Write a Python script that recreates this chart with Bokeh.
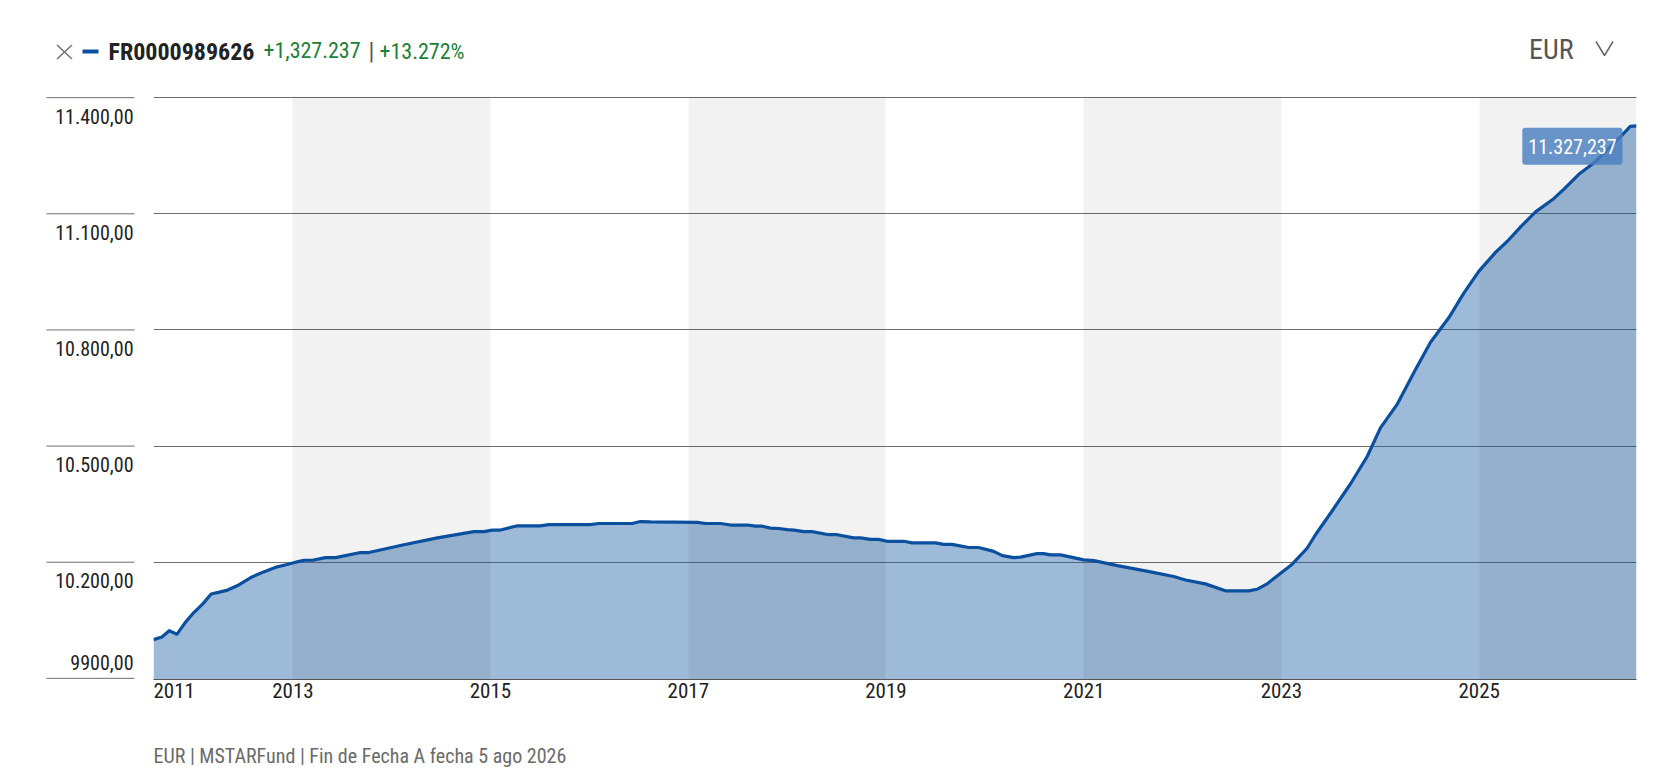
import pandas as pd
from bokeh.plotting import figure
from bokeh.layouts import column, row
from bokeh.models import Range1d, FixedTicker, CustomJSTickFormatter, Label, ColumnDataSource
from bokeh.core.properties import value
from bokeh.embed import file_html
from bokeh.resources import INLINE

# ---------------- data ----------------
dates = [
    "2011-08-05", "2011-09-05", "2011-10-02", "2011-10-31", "2011-11-30", "2012-01-01",
    "2012-02-04", "2012-03-05", "2012-04-01", "2012-05-05", "2012-06-09", "2012-08-03",
    "2012-09-15", "2012-11-04", "2012-12-11", "2013-01-17", "2013-02-11", "2013-03-14",
    "2013-05-02", "2013-06-08", "2013-09-08", "2013-10-09", "2014-02-15", "2014-06-19",
    "2014-11-01", "2014-12-08", "2015-01-07", "2015-02-07", "2015-04-10", "2015-07-05",
    "2015-08-04", "2016-01-05", "2016-02-05", "2016-06-07", "2016-07-08", "2016-08-14",
    "2017-02-03", "2017-03-06", "2017-04-30", "2017-06-06", "2017-08-07", "2017-09-06",
    "2017-10-01", "2017-10-31", "2017-12-01", "2018-01-01", "2018-01-26", "2018-03-04",
    "2018-04-03", "2018-06-04", "2018-07-05", "2018-09-04", "2018-09-29", "2018-11-05",
    "2018-12-05", "2019-01-05", "2019-03-08", "2019-04-08", "2019-07-03", "2019-08-02",
    "2019-09-02", "2019-11-03", "2019-12-09", "2020-02-03", "2020-03-06", "2020-04-17",
    "2020-05-12", "2020-07-12", "2020-08-06", "2020-08-31", "2020-10-07", "2021-01-01",
    "2021-02-07", "2021-05-05", "2021-09-05", "2021-11-29", "2022-01-12", "2022-03-26",
    "2022-06-08", "2022-09-02", "2022-10-03", "2022-11-09", "2022-12-28", "2023-02-10",
    "2023-04-06", "2023-05-07", "2023-07-08", "2023-09-13", "2023-11-14", "2024-01-02",
    "2024-03-03", "2024-05-10", "2024-07-05", "2024-09-11", "2024-11-05", "2024-12-31",
    "2025-03-03", "2025-04-15", "2025-06-03", "2025-07-28", "2025-10-03", "2025-11-09",
    "2026-01-04", "2026-02-28", "2026-04-24", "2026-06-07", "2026-07-13", "2026-08-05",
]
values = [
    10000, 10007, 10023, 10014, 10044, 10070,
    10093, 10118, 10122, 10128, 10139, 10162,
    10175, 10188, 10194, 10201, 10205, 10205,
    10212, 10212, 10225, 10225, 10245, 10263,
    10279, 10279, 10283, 10283, 10294, 10294,
    10297, 10297, 10300, 10300, 10305, 10304,
    10303, 10300, 10300, 10296, 10296, 10293,
    10293, 10288, 10287, 10284, 10283, 10279,
    10279, 10271, 10271, 10263, 10263, 10259,
    10259, 10254, 10254, 10250, 10250, 10246,
    10246, 10238, 10238, 10228, 10217, 10212,
    10213, 10222, 10222, 10219, 10219, 10206,
    10204, 10191, 10175, 10163, 10154, 10144,
    10126, 10126, 10130, 10144, 10171, 10195,
    10236, 10271, 10333, 10402, 10473, 10547,
    10607, 10697, 10768, 10832, 10895, 10952,
    11001, 11029, 11066, 11105, 11139, 11163,
    11202, 11231, 11269, 11299, 11326, 11327.237,
]
y_ticks = [9900, 10200, 10500, 10800, 11100, 11400]
y_tick_labels = ["9900,00", "10.200,00", "10.500,00", "10.800,00", "11.100,00", "11.400,00"]
x_tick_dates = ["2011-08-05", "2013-01-01", "2015-01-01", "2017-01-01",
                "2019-01-01", "2021-01-01", "2023-01-01", "2025-01-01"]
band_starts = ["2013-01-01", "2017-01-01", "2021-01-01", "2025-01-01"]
band_ends = ["2015-01-01", "2019-01-01", "2023-01-01", "2026-08-05"]
isin = "FR0000989626"
change_abs = "+1,327.237"
change_pct = "+13.272%"
currency = "EUR"
last_label = "11.327,237"
footer_text = "EUR | MSTARFund | Fin de Fecha A fecha 5 ago 2026"

# ---------------- style ----------------
FONT = "Roboto Condensed, Noto Sans Condensed, DejaVu Sans Condensed, Liberation Sans Narrow, Roboto"
F = value(FONT)
BLUE = "#0b4f9f"
GRID = "#6e6e6e"
GREEN = "#1a7f37"
PAD = 3
W_TOTAL = 1648

def bare(p):
    p.outline_line_color = None
    p.grid.visible = False
    p.min_border_left = p.min_border_right = 0

# ---------------- main chart ----------------
src = ColumnDataSource(dict(x=pd.to_datetime(dates), y=values))
bands = ColumnDataSource(dict(x0=pd.to_datetime(band_starts), x1=pd.to_datetime(band_ends)))
x_start, x_end = pd.Timestamp(dates[0]), pd.Timestamp(dates[-1])
yr = Range1d(y_ticks[0] - PAD, y_ticks[-1] + PAD)

main = figure(width=1495, height=641, x_axis_type="datetime",
              x_range=Range1d(x_start, x_end), y_range=yr, y_axis_location=None,
              output_backend="svg", toolbar_location=None,
              min_border_top=18, min_border_bottom=40)
bare(main)
main.min_border_right = 12

main.hspan(y=y_ticks[1:], line_color=GRID, line_width=1)
main.varea(x="x", y1=yr.start, y2="y", source=src, fill_color="#1f5fa8", fill_alpha=0.43)
main.vstrip(x0="x0", x1="x1", source=bands, fill_color="black", fill_alpha=0.05, line_color=None)
main.line("x", "y", source=src, line_color=BLUE, line_width=3.2, line_join="round")

xa = main.xaxis[0]
xa.ticker = FixedTicker(ticks=[pd.Timestamp(d).value / 1e6 for d in x_tick_dates])
xa.formatter = CustomJSTickFormatter(code="return String(new Date(tick).getUTCFullYear());")
xa.major_label_text_align = "left"
xa.major_tick_line_color = None
xa.minor_tick_line_color = None
xa.axis_line_color = "#555555"
xa.major_label_text_font = FONT
xa.major_label_text_font_size = "21px"
xa.major_label_text_color = "#222222"
xa.major_label_standoff = -3

main.add_layout(Label(x=x_end, y=values[-1], text=last_label,
                      text_align="right", text_baseline="top",
                      x_offset=-14, y_offset=-2,
                      text_color="white", text_font=FONT, text_font_size="20px",
                      background_fill_color="#4a7fbf", background_fill_alpha=0.82,
                      padding=dict(left=6, right=6, top=11, bottom=11), border_radius=3))

# ---------------- left y labels ----------------
left = figure(width=153, height=641, x_range=Range1d(0, 153), y_range=yr,
              x_axis_location=None, y_axis_location=None,
              output_backend="svg", toolbar_location=None,
              min_border_top=18, min_border_bottom=40)
bare(left)
left.segment(x0=46, x1=134, y0=y_ticks, y1=y_ticks, line_color=GRID, line_width=1)
left.text(x=133, y=y_ticks[1:], text=y_tick_labels[1:], text_align="right",
          text_baseline="top", y_offset=11, text_font=F,
          text_font_size="20px", text_color="#222222")
left.text(x=133, y=y_ticks[:1], text=y_tick_labels[:1], text_align="right",
          text_baseline="top", y_offset=-23, text_font=F,
          text_font_size="20px", text_color="#222222")

# ---------------- header ----------------
head = figure(width=W_TOTAL, height=78, x_range=Range1d(0, W_TOTAL), y_range=Range1d(78, 0),
              x_axis_location=None, y_axis_location=None,
              output_backend="svg", toolbar_location=None,
              min_border_top=0, min_border_bottom=0)
bare(head)
head.segment(x0=[56.5, 56.5], y0=[44.5, 58.5], x1=[71.5, 71.5], y1=[58.5, 44.5],
             line_color="#777777", line_width=1.6)
head.quad(left=82, right=98, top=49, bottom=53, fill_color=BLUE, line_color=None)
head.text(x=108, y=37, text=[isin], text_font=F, text_font_style="bold",
          text_font_size="24px", text_color="#222222", text_baseline="top")
head.text(x=263, y=41, text=[change_abs], text_font=F, text_font_size="22px",
          text_color=GREEN, text_baseline="top")
head.text(x=371, y=36, text=["|"], text_font=F, text_font_size="24px",
          text_color="#555555", text_align="center", text_baseline="top")
head.text(x=379, y=38, text=[change_pct], text_font=F, text_font_size="22px",
          text_color=GREEN, text_baseline="top")
head.text(x=1573, y=32, text=[currency], text_font=F, text_font_size="28px",
          text_color="#555555", text_align="right", text_baseline="top")
head.line(x=[1595.5, 1604, 1612.5], y=[41, 55, 41], line_color="#666666", line_width=1.5)

# ---------------- footer ----------------
foot = figure(width=W_TOTAL, height=62, x_range=Range1d(0, W_TOTAL), y_range=Range1d(781, 719),
              x_axis_location=None, y_axis_location=None,
              output_backend="svg", toolbar_location=None,
              min_border_top=0, min_border_bottom=0)
bare(foot)
foot.text(x=153, y=743, text=[footer_text], text_font=F, text_font_size="20px",
          text_color="#6b6b6b", text_baseline="top")

layout = column(head, row(left, main), foot)
open("out.html", "w").write(file_html(layout, INLINE))
